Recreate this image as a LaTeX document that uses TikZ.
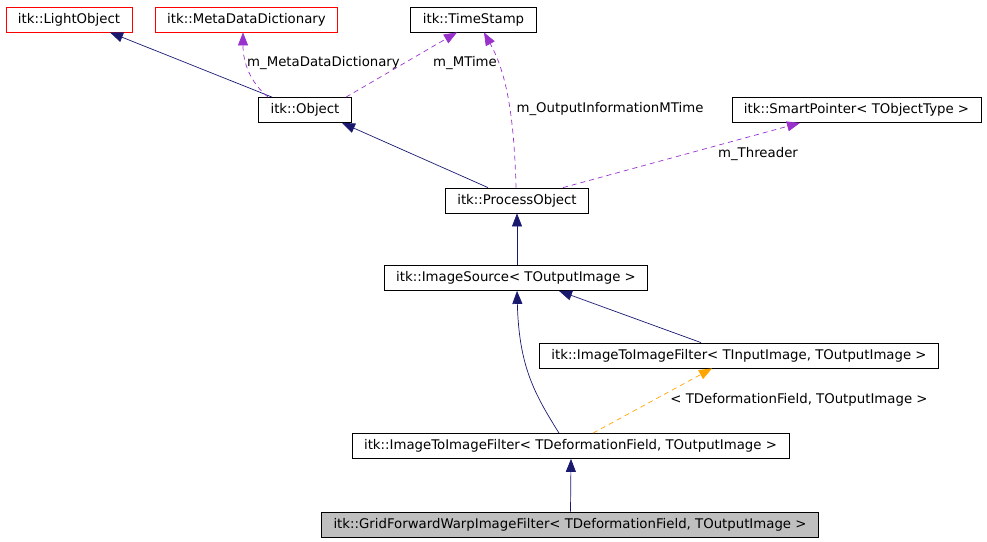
\documentclass[tikz,border=0pt]{standalone}
\usepackage{fontspec}
\setmainfont{DejaVu Sans}
\usetikzlibrary{arrows.meta}
\definecolor{inhblue}{RGB}{25,25,112}
\definecolor{usepurple}{RGB}{153,50,204}
\definecolor{tplorange}{RGB}{255,165,0}
\definecolor{hlgray}{RGB}{191,191,191}
\begin{document}
\begin{tikzpicture}[>={Triangle[length=13pt,width=10pt]}, x=1pt, y=1pt,
    cls/.style={draw, line width=0.8pt, minimum height=25pt, inner xsep=12pt,
        font=\fontsize{13.3}{16}\selectfont},
    undoc/.style={cls, draw=red},
    lbl/.style={font=\fontsize{13.3}{16}\selectfont, inner sep=0pt},
    inh/.style={->, line width=0.7pt, inhblue},
    usage/.style={->, line width=0.7pt, usepurple, dash pattern=on 5pt off 4pt},
    tmpl/.style={->, line width=0.7pt, tplorange, dash pattern=on 5pt off 4pt}]
    \useasboundingbox (0,0) rectangle (987,-541);

    % Klassen
    \node[undoc] (lobj) at (69,-19.5) {itk::LightObject};
    \node[undoc] (mdd) at (246.5,-19.5) {itk::MetaDataDictionary};
    \node[cls] (tstamp) at (473.5,-19.5) {itk::TimeStamp};
    \node[cls] (obj) at (305,-110) {itk::Object};
    \node[cls] (sptr) at (856.5,-110) {itk::SmartPointer< TObjectType >};
    \node[cls] (procobj) at (517,-200.5) {itk::ProcessObject};
    \node[cls] (imgsrc) at (516,-278) {itk::ImageSource< TOutputImage >};
    \node[cls] (itifin) at (739,-355.5) {itk::ImageToImageFilter< TInputImage, TOutputImage >};
    \node[cls] (itifdef) at (570.5,-446) {itk::ImageToImageFilter< TDeformationField, TOutputImage >};
    \node[cls, fill=hlgray] (gridfw) at (570,-524.5) {itk::GridForwardWarpImageFilter< TDeformationField, TOutputImage >};

    % Vererbung
    \draw[inh] ([xshift=-33pt]obj.north) -- ([xshift=41pt]lobj.south);
    \draw[inh] ([xshift=-29pt]procobj.north) -- ([xshift=37pt]obj.south);
    \draw[inh] ([xshift=1pt]imgsrc.north) -- (procobj.south);
    \draw[inh] ([xshift=-38pt]itifin.north) -- ([xshift=43pt]imgsrc.south);
    \draw[inh] ([xshift=-11.5pt]itifdef.north) .. controls +(-25,40) and +(2,-75) .. ([xshift=1pt]imgsrc.south);
    \draw[inh] ([xshift=0.5pt]gridfw.north) -- ([xshift=0.5pt]itifdef.south);

    % Member
    \draw[usage] ([xshift=-37pt]obj.north) .. controls +(-18,15) and +(0,-30) .. ([xshift=-3.5pt]mdd.south);
    \node[lbl] (lblmdd) at (323.5,-63) {m\_MetaDataDictionary};
    \draw[usage] ([xshift=41pt]obj.north) -- ([xshift=-16.5pt]tstamp.south);
    \node[lbl] (lblmtime) at (465,-63) {m\_MTime};
    \draw[usage] ([xshift=-1pt]procobj.north) .. controls +(-2,78) and +(21,-38) .. ([xshift=10.5pt]tstamp.south);
    \node[lbl] (lbloimt) at (610,-109) {m\_OutputInformationMTime};
    \draw[usage] ([xshift=46pt]procobj.north) -- ([xshift=-56.5pt]sptr.south);
    \node[lbl] (lblthr) at (758,-154) {m\_Threader};

    % Template
    \draw[tmpl] ([xshift=22.5pt]itifdef.north) -- ([xshift=-27pt]itifin.south);
    \node[lbl] (lbltpl) at (799,-400) {< TDeformationField, TOutputImage >};
\end{tikzpicture}
\end{document}
